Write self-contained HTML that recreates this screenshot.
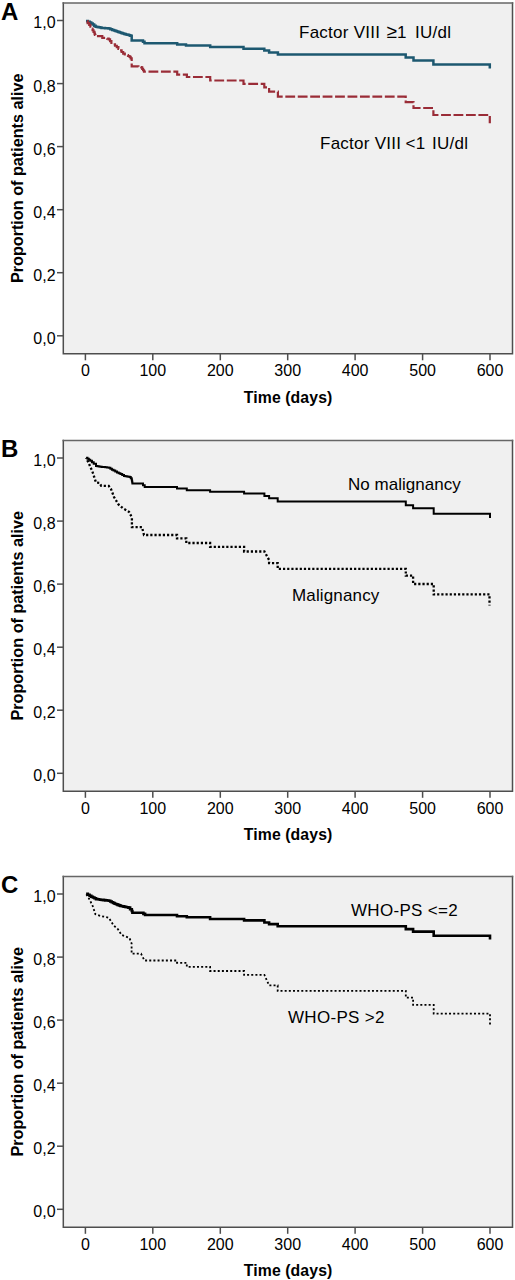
<!DOCTYPE html>
<html><head><meta charset="utf-8"><style>
html,body{margin:0;padding:0;background:#fff;width:515px;height:1280px;overflow:hidden}
svg{display:block}
text{font-family:"Liberation Sans",sans-serif;fill:#000}
.tk{font-size:16px}
.lg{font-size:17px;letter-spacing:0.3px}
.ttl{font-size:15.8px;font-weight:bold;letter-spacing:0.1px}
.yt{font-size:16.2px;font-weight:bold}
.pl{font-size:24px;font-weight:bold}
</style></head><body>
<svg width="515" height="1280" viewBox="0 0 515 1280">
<rect width="515" height="1280" fill="#fff"/>

<rect x="63.3" y="3.0" width="449.2" height="350.7" fill="#f0f0f0"/>
<path d="M63.3 2.25 V353.70 M62.55 353.70 H513.25 M512.5 353.70 V2.25" fill="none" stroke="#4e4e4e" stroke-width="1.5"/>
<path d="M62.55 3.00 H513.25" fill="none" stroke="#666" stroke-width="1.5"/>
<line x1="57" y1="20.5" x2="63.3" y2="20.5" stroke="#4e4e4e" stroke-width="1.5"/>
<text class="tk" x="55.6" y="28.4" text-anchor="end">1,0</text>
<line x1="57" y1="83.6" x2="63.3" y2="83.6" stroke="#4e4e4e" stroke-width="1.5"/>
<text class="tk" x="55.6" y="91.5" text-anchor="end">0,8</text>
<line x1="57" y1="146.6" x2="63.3" y2="146.6" stroke="#4e4e4e" stroke-width="1.5"/>
<text class="tk" x="55.6" y="154.5" text-anchor="end">0,6</text>
<line x1="57" y1="209.7" x2="63.3" y2="209.7" stroke="#4e4e4e" stroke-width="1.5"/>
<text class="tk" x="55.6" y="217.6" text-anchor="end">0,4</text>
<line x1="57" y1="272.7" x2="63.3" y2="272.7" stroke="#4e4e4e" stroke-width="1.5"/>
<text class="tk" x="55.6" y="280.6" text-anchor="end">0,2</text>
<line x1="57" y1="335.8" x2="63.3" y2="335.8" stroke="#4e4e4e" stroke-width="1.5"/>
<text class="tk" x="55.6" y="343.7" text-anchor="end">0,0</text>
<line x1="85.4" y1="353.7" x2="85.4" y2="360.3" stroke="#4e4e4e" stroke-width="1.5"/>
<text class="tk" x="85.4" y="376.0" text-anchor="middle">0</text>
<line x1="152.8" y1="353.7" x2="152.8" y2="360.3" stroke="#4e4e4e" stroke-width="1.5"/>
<text class="tk" x="152.8" y="376.0" text-anchor="middle">100</text>
<line x1="220.3" y1="353.7" x2="220.3" y2="360.3" stroke="#4e4e4e" stroke-width="1.5"/>
<text class="tk" x="220.3" y="376.0" text-anchor="middle">200</text>
<line x1="287.7" y1="353.7" x2="287.7" y2="360.3" stroke="#4e4e4e" stroke-width="1.5"/>
<text class="tk" x="287.7" y="376.0" text-anchor="middle">300</text>
<line x1="355.1" y1="353.7" x2="355.1" y2="360.3" stroke="#4e4e4e" stroke-width="1.5"/>
<text class="tk" x="355.1" y="376.0" text-anchor="middle">400</text>
<line x1="422.6" y1="353.7" x2="422.6" y2="360.3" stroke="#4e4e4e" stroke-width="1.5"/>
<text class="tk" x="422.6" y="376.0" text-anchor="middle">500</text>
<line x1="490.0" y1="353.7" x2="490.0" y2="360.3" stroke="#4e4e4e" stroke-width="1.5"/>
<text class="tk" x="490.0" y="376.0" text-anchor="middle">600</text>
<text class="ttl" x="288.1" y="402.7" text-anchor="middle">Time (days)</text>
<text class="yt" transform="translate(23,178.3) rotate(-90)" text-anchor="middle">Proportion of patients alive</text>
<text class="pl" x="1" y="19.5">A</text>
<rect x="63.3" y="440.5" width="449.2" height="350.7" fill="#f0f0f0"/>
<path d="M63.3 439.75 V791.20 M62.55 791.20 H513.25 M512.5 791.20 V439.75" fill="none" stroke="#4e4e4e" stroke-width="1.5"/>
<path d="M62.55 440.50 H513.25" fill="none" stroke="#666" stroke-width="1.5"/>
<line x1="57" y1="458.0" x2="63.3" y2="458.0" stroke="#4e4e4e" stroke-width="1.5"/>
<text class="tk" x="55.6" y="465.9" text-anchor="end">1,0</text>
<line x1="57" y1="521.1" x2="63.3" y2="521.1" stroke="#4e4e4e" stroke-width="1.5"/>
<text class="tk" x="55.6" y="529.0" text-anchor="end">0,8</text>
<line x1="57" y1="584.1" x2="63.3" y2="584.1" stroke="#4e4e4e" stroke-width="1.5"/>
<text class="tk" x="55.6" y="592.0" text-anchor="end">0,6</text>
<line x1="57" y1="647.2" x2="63.3" y2="647.2" stroke="#4e4e4e" stroke-width="1.5"/>
<text class="tk" x="55.6" y="655.1" text-anchor="end">0,4</text>
<line x1="57" y1="710.2" x2="63.3" y2="710.2" stroke="#4e4e4e" stroke-width="1.5"/>
<text class="tk" x="55.6" y="718.1" text-anchor="end">0,2</text>
<line x1="57" y1="773.3" x2="63.3" y2="773.3" stroke="#4e4e4e" stroke-width="1.5"/>
<text class="tk" x="55.6" y="781.2" text-anchor="end">0,0</text>
<line x1="85.4" y1="791.2" x2="85.4" y2="797.8" stroke="#4e4e4e" stroke-width="1.5"/>
<text class="tk" x="85.4" y="813.5" text-anchor="middle">0</text>
<line x1="152.8" y1="791.2" x2="152.8" y2="797.8" stroke="#4e4e4e" stroke-width="1.5"/>
<text class="tk" x="152.8" y="813.5" text-anchor="middle">100</text>
<line x1="220.3" y1="791.2" x2="220.3" y2="797.8" stroke="#4e4e4e" stroke-width="1.5"/>
<text class="tk" x="220.3" y="813.5" text-anchor="middle">200</text>
<line x1="287.7" y1="791.2" x2="287.7" y2="797.8" stroke="#4e4e4e" stroke-width="1.5"/>
<text class="tk" x="287.7" y="813.5" text-anchor="middle">300</text>
<line x1="355.1" y1="791.2" x2="355.1" y2="797.8" stroke="#4e4e4e" stroke-width="1.5"/>
<text class="tk" x="355.1" y="813.5" text-anchor="middle">400</text>
<line x1="422.6" y1="791.2" x2="422.6" y2="797.8" stroke="#4e4e4e" stroke-width="1.5"/>
<text class="tk" x="422.6" y="813.5" text-anchor="middle">500</text>
<line x1="490.0" y1="791.2" x2="490.0" y2="797.8" stroke="#4e4e4e" stroke-width="1.5"/>
<text class="tk" x="490.0" y="813.5" text-anchor="middle">600</text>
<text class="ttl" x="288.1" y="840.2" text-anchor="middle">Time (days)</text>
<text class="yt" transform="translate(23,615.8) rotate(-90)" text-anchor="middle">Proportion of patients alive</text>
<text class="pl" x="1" y="456.6">B</text>
<rect x="63.3" y="876.5" width="449.2" height="350.7" fill="#f0f0f0"/>
<path d="M63.3 875.75 V1227.20 M62.55 1227.20 H513.25 M512.5 1227.20 V875.75" fill="none" stroke="#4e4e4e" stroke-width="1.5"/>
<path d="M62.55 876.50 H513.25" fill="none" stroke="#666" stroke-width="1.5"/>
<line x1="57" y1="894.0" x2="63.3" y2="894.0" stroke="#4e4e4e" stroke-width="1.5"/>
<text class="tk" x="55.6" y="901.9" text-anchor="end">1,0</text>
<line x1="57" y1="957.1" x2="63.3" y2="957.1" stroke="#4e4e4e" stroke-width="1.5"/>
<text class="tk" x="55.6" y="965.0" text-anchor="end">0,8</text>
<line x1="57" y1="1020.1" x2="63.3" y2="1020.1" stroke="#4e4e4e" stroke-width="1.5"/>
<text class="tk" x="55.6" y="1028.0" text-anchor="end">0,6</text>
<line x1="57" y1="1083.2" x2="63.3" y2="1083.2" stroke="#4e4e4e" stroke-width="1.5"/>
<text class="tk" x="55.6" y="1091.1" text-anchor="end">0,4</text>
<line x1="57" y1="1146.2" x2="63.3" y2="1146.2" stroke="#4e4e4e" stroke-width="1.5"/>
<text class="tk" x="55.6" y="1154.1" text-anchor="end">0,2</text>
<line x1="57" y1="1209.3" x2="63.3" y2="1209.3" stroke="#4e4e4e" stroke-width="1.5"/>
<text class="tk" x="55.6" y="1217.2" text-anchor="end">0,0</text>
<line x1="85.4" y1="1227.2" x2="85.4" y2="1233.8" stroke="#4e4e4e" stroke-width="1.5"/>
<text class="tk" x="85.4" y="1249.5" text-anchor="middle">0</text>
<line x1="152.8" y1="1227.2" x2="152.8" y2="1233.8" stroke="#4e4e4e" stroke-width="1.5"/>
<text class="tk" x="152.8" y="1249.5" text-anchor="middle">100</text>
<line x1="220.3" y1="1227.2" x2="220.3" y2="1233.8" stroke="#4e4e4e" stroke-width="1.5"/>
<text class="tk" x="220.3" y="1249.5" text-anchor="middle">200</text>
<line x1="287.7" y1="1227.2" x2="287.7" y2="1233.8" stroke="#4e4e4e" stroke-width="1.5"/>
<text class="tk" x="287.7" y="1249.5" text-anchor="middle">300</text>
<line x1="355.1" y1="1227.2" x2="355.1" y2="1233.8" stroke="#4e4e4e" stroke-width="1.5"/>
<text class="tk" x="355.1" y="1249.5" text-anchor="middle">400</text>
<line x1="422.6" y1="1227.2" x2="422.6" y2="1233.8" stroke="#4e4e4e" stroke-width="1.5"/>
<text class="tk" x="422.6" y="1249.5" text-anchor="middle">500</text>
<line x1="490.0" y1="1227.2" x2="490.0" y2="1233.8" stroke="#4e4e4e" stroke-width="1.5"/>
<text class="tk" x="490.0" y="1249.5" text-anchor="middle">600</text>
<text class="ttl" x="288.1" y="1276.2" text-anchor="middle">Time (days)</text>
<text class="yt" transform="translate(23,1051.8) rotate(-90)" text-anchor="middle">Proportion of patients alive</text>
<text class="pl" x="1" y="893.2">C</text>
<g transform="translate(0,0.4)">
<path d="M86.00 20.70H87.90V21.35H89.80V22.00H91.25V23.07H92.70V24.15H94.15V25.23H95.60V26.30H97.07V26.60H98.55V26.90H100.03V27.20H101.50V27.50H103.25V27.65H105.00V27.80H106.75V27.95H108.50V28.10H110.33V28.80H112.17V29.50H114.00V30.20H115.43V30.67H116.87V31.13H118.30V31.60H119.73V32.13H121.17V32.67H122.60V33.20H124.20V33.60H125.80V34.00H127.40V34.40H129.00V34.80H130.35V35.40H131.70V36.00V40.00H141.50H143.00V41.40H144.50V42.80H177.20V44.20H186.00V45.10H210.20V46.70H243.50V48.30H264.30V50.10H269.10V52.10H277.90V54.10H405.70V57.10H413.50V60.00H433.40V64.00H489.80V68.00" fill="none" stroke="#1d5870" stroke-width="2.5"/>
<path d="M86.00 20.70H87.60V22.65H89.20V24.60H90.40V26.35H91.60V28.10H92.57V29.83H93.53V31.57H94.50V33.30H94.95V34.55H95.40V35.80H101.20H102.30V37.40H105.50H107.10V38.20H108.70V39.00H110.05V40.75H111.40V42.50H113.20V43.93H115.00V45.37H116.80V46.80H118.40V48.40H120.00V50.00H121.60V51.60H123.20V53.20H124.80V54.00H126.40V54.80H128.00V55.60H129.60V56.40H130.65V58.00H131.70V59.60V66.00H137.00H138.43V66.33H139.87V66.67H141.30V67.00H142.20V68.43H143.10V69.87H144.00V71.30H177.20V74.30H186.90V76.60H210.20V80.10H243.50V83.50H264.30V87.00H269.10V91.30H277.90V96.20H405.70V101.70H413.50V107.60H433.40V114.60H489.80V122.80" fill="none" stroke="#9a2c37" stroke-width="2.2" stroke-dasharray="9.8 2.64" stroke-dashoffset="11.30"/>
</g>
<path d="M86.10 457.80H87.47V458.77H88.83V459.73H90.20V460.70H91.95V462.20H93.70V463.70H96.00V466.00H97.45V466.23H98.90V466.45H100.35V466.67H101.80V466.90H103.55V467.10H105.30V467.30H107.05V467.50H108.80V467.70H110.37V468.67H111.93V469.63H113.50V470.60H115.25V471.50H117.00V472.40H118.70V473.25H120.40V474.10H122.20V475.00H124.00V475.90H125.45V476.17H126.90V476.45H128.35V476.73H129.80V477.00H130.75V478.25H131.70V479.50H131.93V480.87H132.17V482.23H132.40V483.60H141.30H143.00V485.30H144.70V487.00H177.00V488.50H186.80V490.20H210.10V491.80H244.10V493.60H264.40V496.00H269.10V498.30H277.70V501.60H405.80V505.20H413.10V508.30H433.70V513.70H490.00V518.00" fill="none" stroke="#000" stroke-width="2"/>
<path d="M86.10 457.80L89.00 463.70L92.50 471.80L94.80 478.80L96.00 482.50L99.50 482.90L101.20 485.80L108.80 486.00L111.00 489.00L114.00 497.00L118.50 504.50L123.00 508.30L129.00 511.80L131.90 517.60V527.10H142.00L144.00 535.00H177.00V538.40H186.30V543.00H210.10V546.80H244.10V551.50H264.40L269.10 560.00V563.10H277.70V568.80H405.80V575.60H413.10V584.00H433.70V594.40H489.50V605.50" fill="none" stroke="#000" stroke-width="2.3" stroke-dasharray="2.2 1.98" stroke-dashoffset="1.54"/>
<path d="M86.10 893.80H87.83V894.77H89.57V895.73H91.30V896.70H92.87V897.50H94.43V898.30H96.00V899.10H97.45V899.30H98.90V899.50H100.35V899.70H101.80V899.90H103.55V900.12H105.30V900.35H107.05V900.57H108.80V900.80H110.25V901.52H111.70V902.25H113.15V902.98H114.60V903.70H116.05V904.28H117.50V904.85H118.95V905.42H120.40V906.00H122.00V906.32H123.60V906.64H125.20V906.96H126.80V907.28H128.40V907.60H130.10V909.30H131.80V911.00H132.40V912.70H141.70H143.40V913.85H145.10V915.00H177.00V916.20H186.80V917.30H210.10V919.00H244.10V920.40H264.40V922.50H269.10V924.10H277.70V926.30H405.80V929.10H413.10V931.60H433.70V935.70H490.00V939.50" fill="none" stroke="#000" stroke-width="2.6"/>
<path d="M86.10 893.80L89.00 898.50L92.50 905.50L95.40 914.20L100.60 916.00L108.80 917.70L113.50 925.30L118.10 929.40L121.60 935.00L129.50 938.00L131.60 943.50V953.70H141.00L144.50 960.50H177.00V962.80H186.80V966.80H210.10V971.00H244.10V974.90H264.40L269.10 985.40H277.70V990.90H405.80V997.60H413.10V1004.90H433.70V1013.60H490.00V1025.00" fill="none" stroke="#000" stroke-width="1.8" stroke-dasharray="2.0 2.157" stroke-dashoffset="3.65"/>
<text class="lg" x="299" y="38" style="letter-spacing:0.25px">Factor VIII<tspan x="386.5" style="font-size:19px">≥</tspan><tspan x="397">1</tspan><tspan x="415">IU/dl</tspan></text>
<text class="lg" x="320" y="149.4" style="letter-spacing:0.25px">Factor VIII<tspan x="405.5">&lt;1</tspan><tspan x="432">IU/dl</tspan></text>
<text class="lg" x="348" y="489.7" style="letter-spacing:0.03px">No malignancy</text>
<text class="lg" x="292" y="600.7" style="letter-spacing:0.15px">Malignancy</text>
<text class="lg" x="351" y="915.7">WHO-PS &lt;=2</text>
<text class="lg" x="288" y="1023.1">WHO-PS &gt;2</text>
</svg></body></html>
